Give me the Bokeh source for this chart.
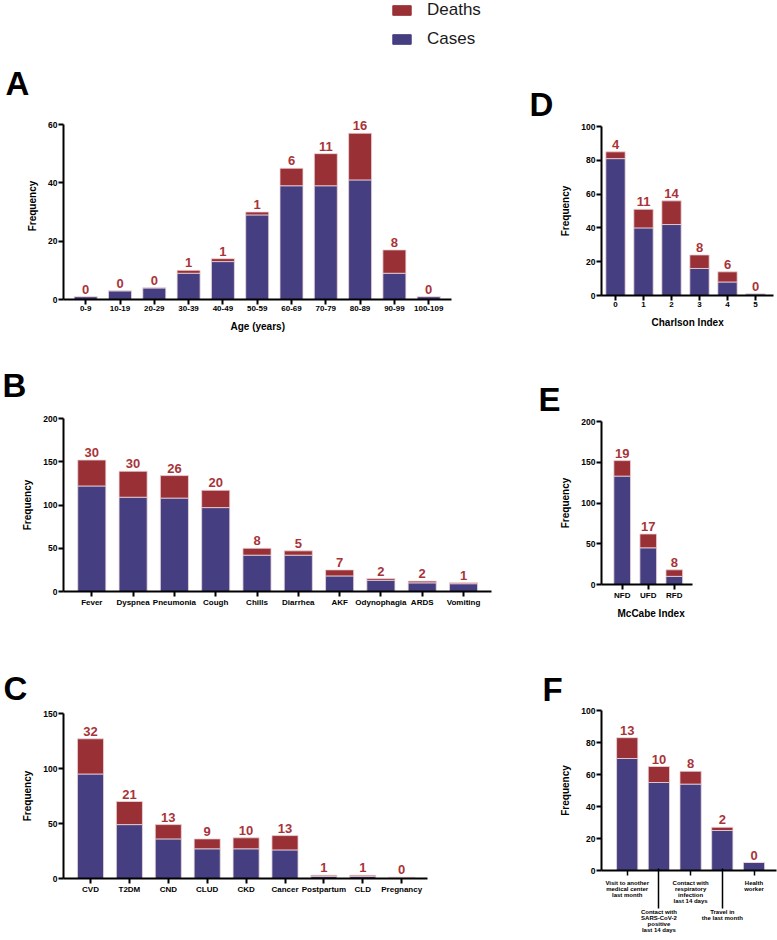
from bokeh.plotting import figure
from bokeh.models import (Range1d, FixedTicker, ColumnDataSource, Legend, LegendItem,
                          LinearAxis, Title)
from bokeh.layouts import column, row
from bokeh.core.properties import value
from bokeh.embed import file_html
from bokeh.resources import INLINE

FONT = "Liberation Sans"
BLUE = "#453e80"
RED = "#993036"
NUM_RED = "#a8343a"

# ---------------- data ----------------
age_groups = ["0-9", "10-19", "20-29", "30-39", "40-49", "50-59", "60-69",
              "70-79", "80-89", "90-99", "100-109"]
age_totals = [1, 3, 4, 10, 14, 30, 45, 50, 57, 17, 1]
age_deaths = [0, 0, 0, 1, 1, 1, 6, 11, 16, 8, 0]

symptoms = ["Fever", "Dyspnea", "Pneumonia", "Cough", "Chills", "Diarrhea",
            "AKF", "Odynophagia", "ARDS", "Vomiting"]
symptom_totals = [152, 139, 134, 117, 50, 47, 25, 15, 12, 10]
symptom_deaths = [30, 30, 26, 20, 8, 5, 7, 2, 2, 1]

comorbidities = ["CVD", "T2DM", "CND", "CLUD", "CKD", "Cancer", "Postpartum",
                 "CLD", "Pregnancy"]
comorbidity_totals = [127, 70, 49, 36, 37, 39, 3, 3, 1]
comorbidity_deaths = [32, 21, 13, 9, 10, 13, 1, 1, 0]

charlson = ["0", "1", "2", "3", "4", "5"]
charlson_totals = [85, 51, 56, 24, 14, 1]
charlson_deaths = [4, 11, 14, 8, 6, 0]

mccabe = ["NFD", "UFD", "RFD"]
mccabe_totals = [152, 62, 18]
mccabe_deaths = [19, 17, 8]

exposures = ["Visit to another\nmedical center\nlast month",
             "Contact with\nSARS-CoV-2\npositive\nlast 14 days",
             "Contact with\nrespiratory\ninfection\nlast 14 days",
             "Travel in\nthe last month",
             "Health\nworker"]
exposure_totals = [83, 65, 62, 27, 5]
exposure_deaths = [13, 10, 8, 2, 0]


def style_axis(ax, size):
    ax.axis_line_width = 2
    ax.axis_line_color = "black"
    ax.major_tick_line_width = 2
    ax.major_tick_line_color = "black"
    ax.major_tick_in = 0
    ax.major_tick_out = 5
    ax.minor_tick_line_color = None
    ax.major_label_text_font = FONT
    ax.major_label_text_font_style = "bold"
    ax.major_label_text_font_size = size
    ax.major_label_text_color = "black"


LEFT_COL = (0, 496, 63, 491)     # x0, width, frame left, frame right
RIGHT_COL = (496, 281, 601, 776)


def make_panel(letter, cats, totals, deaths, y_max, y_step, col, fig_y0, fig_h,
               T, B, c0, u, x_end, bar_w, letter_x, letter_base, head=0,
               x_title=None, x_title_left=None, x_title_standoff=11,
               staggered=False):
    cx0, cw, L, R = col
    n = len(cats)
    xs = list(range(n))
    cases = [t - d for t, d in zip(totals, deaths)]
    src = ColumnDataSource(dict(x=xs, cases=cases, deaths=deaths, total=totals,
                                lab=[str(d) for d in deaths]))
    x0 = -(c0 - L) / u
    x1 = (R - c0) / u
    xb = (x_end - c0) / u
    y_end = y_max * (B - T + head) / (B - T)
    ftop = T - head
    p = figure(width=cw, height=fig_h,
               x_range=Range1d(x0, x1), y_range=Range1d(0, y_end),
               output_backend="svg", toolbar_location=None,
               min_border_left=L - cx0, min_border_right=cx0 + cw - R,
               min_border_top=ftop - fig_y0, min_border_bottom=fig_y0 + fig_h - B)
    p.outline_line_color = None
    p.grid.visible = False
    p.vbar_stack(["cases", "deaths"], x="x", width=bar_w, source=src,
                 fill_color=[BLUE, RED], line_color="#ecd6d9", line_width=0.8)
    p.text(x="x", y="total", text="lab", source=src, text_align="center",
           text_baseline="bottom", y_offset=-3, text_font=value(FONT),
           text_font_style="bold", text_font_size="13px", text_color=NUM_RED)

    ya = p.yaxis[0]
    style_axis(ya, "8.5px")
    ya.ticker = FixedTicker(ticks=list(range(0, y_max + 1, y_step)))
    ya.bounds = (0, y_max)
    ya.major_label_standoff = 1
    ya.axis_label = "Frequency"
    ya.axis_label_standoff = 7
    ya.axis_label_text_font = FONT
    ya.axis_label_text_font_style = "bold"
    ya.axis_label_text_font_size = "10px"
    ya.axis_label_text_color = "black"

    xa = p.xaxis[0]
    style_axis(xa, "8px")
    xa.bounds = (x0, xb)
    xa.major_label_standoff = 1
    if staggered:
        near = [i for i in xs if i % 2 == 0]
        far = [i for i in xs if i % 2 == 1]
        xa.ticker = FixedTicker(ticks=near)
        xa.major_label_overrides = {i: cats[i] for i in near}
        xa.major_label_text_font_size = "6px"
        xa.major_label_text_line_height = 1.0
        xa.major_tick_line_width = 1.5
        xa.major_label_standoff = 4
        xb2 = LinearAxis(ticker=FixedTicker(ticks=far),
                         major_label_overrides={i: cats[i] for i in far})
        style_axis(xb2, "6px")
        xb2.axis_line_color = None
        xb2.bounds = (x0, xb)
        xb2.major_tick_in = 38
        xb2.major_tick_out = 2
        xb2.major_tick_line_width = 1.5
        xb2.major_label_standoff = 0
        xb2.major_label_text_line_height = 1.0
        p.add_layout(xb2, "below")
    else:
        xa.ticker = FixedTicker(ticks=xs)
        xa.major_label_overrides = {i: c for i, c in enumerate(cats)}
    if x_title:
        p.add_layout(Title(text=x_title, align="left", offset=x_title_left - L,
                           standoff=x_title_standoff,
                           text_font=FONT, text_font_style="bold",
                           text_font_size="10px", text_color="black"), "below")

    p.add_layout(Title(text=letter, align="left", offset=letter_x - L,
                       standoff=max(2 * (ftop - letter_base - 5.5), 0),
                       text_font=FONT, text_font_style="bold",
                       text_font_size="33px", text_color="black"), "above")
    return p


pA = make_panel("A", age_groups, age_totals, age_deaths, 60, 20, LEFT_COL, 52, 288,
                124, 299, 85.2, 34.3, 451, 0.67, 5, 96, head=12,
                x_title="Age (years)", x_title_left=230)
pB = make_panel("B", symptoms, symptom_totals, symptom_deaths, 200, 50, LEFT_COL,
                340, 272, 418, 591, 91.3, 41.3, 491, 0.68, 2, 398)
pC = make_panel("C", comorbidities, comorbidity_totals, comorbidity_deaths, 150, 50,
                LEFT_COL, 612, 326, 713, 878, 90.0, 38.9, 427, 0.67, 3, 701)
pD = make_panel("D", charlson, charlson_totals, charlson_deaths, 100, 20, RIGHT_COL,
                52, 288, 126, 295, 615.0, 28.0, 773, 0.69, 529, 117,
                x_title="Charlson Index", x_title_left=651)
pE = make_panel("E", mccabe, mccabe_totals, mccabe_deaths, 200, 50, RIGHT_COL,
                340, 282, 421, 587, 621.7, 26.05, 692, 0.64, 538, 412,
                x_title="McCabe Index", x_title_left=617, x_title_standoff=7)
pF = make_panel("F", exposures, exposure_totals, exposure_deaths, 100, 20, RIGHT_COL,
                622, 318, 710, 870, 626.7, 31.7, 776, 0.67, 542, 702,
                staggered=True)

# legend strip
leg = figure(width=777, height=52, x_range=Range1d(0, 1), y_range=Range1d(0, 1),
             output_backend="svg", toolbar_location=None, x_axis_type=None,
             y_axis_type=None, min_border=0)
leg.outline_line_color = None
leg.grid.visible = False
r_d = leg.rect(x=[-5], y=[-5], width=1, height=1, fill_color=RED, line_color=RED)
r_c = leg.rect(x=[-5], y=[-5], width=1, height=1, fill_color=BLUE, line_color=BLUE)
legend = Legend(items=[LegendItem(label="Deaths", renderers=[r_d]),
                       LegendItem(label="Cases", renderers=[r_c])],
                location=(390, 3), glyph_width=23, glyph_height=12,
                label_standoff=14, label_text_font=FONT, label_text_font_size="17px",
                label_text_color="#1a1a1a",
                label_height=20, spacing=9, padding=0, margin=0,
                border_line_color=None, background_fill_alpha=0)
leg.add_layout(legend)

layout = column(leg, row(column(pA, pB, pC), column(pD, pE, pF)))
open("out.html", "w").write(file_html(layout, INLINE))
